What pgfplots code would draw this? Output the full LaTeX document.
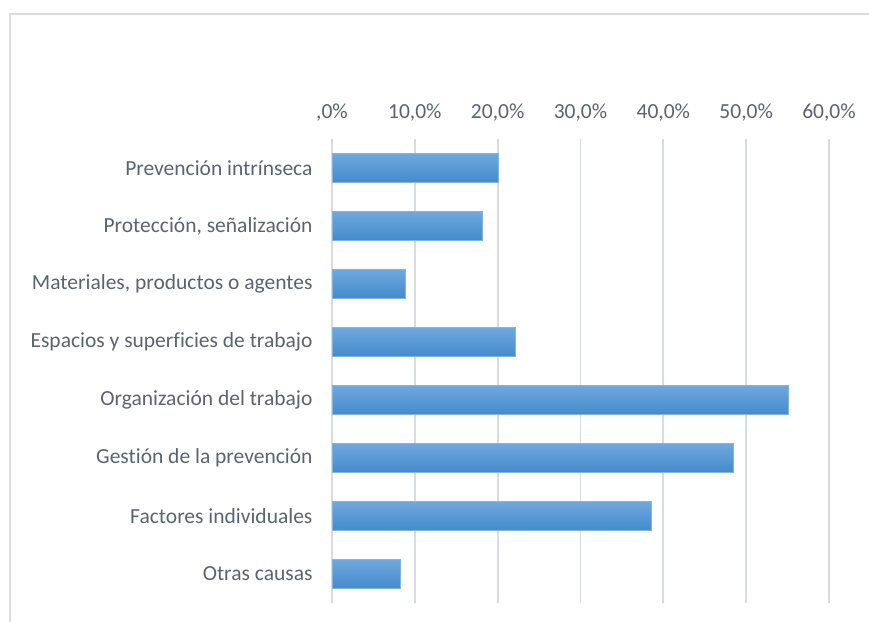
\documentclass[border=0pt]{standalone}
\usepackage{fontspec}
\setmainfont{Carlito}[Ligatures=NoCommon]
\usepackage{pgfplots}
\pgfplotsset{compat=1.18}
\definecolor{txt}{RGB}{89,99,115}
\definecolor{gridc}{RGB}{214,219,228}
\definecolor{framec}{RGB}{217,220,226}
\definecolor{bartop}{RGB}{112,168,222}
\definecolor{barbot}{RGB}{68,138,204}
\definecolor{barline}{RGB}{130,180,230}
\pgfplotsset{mybar/.style={xbar, bar width=29pt, bar shift=0pt, draw=barline, line width=0.6pt, top color=bartop, bottom color=barbot}}
\begin{document}
\begin{tikzpicture}[x=1pt,y=1pt]
\path[use as bounding box] (0,0) rectangle (869,621);
\draw[framec,line width=1.4pt] (10,-5) -- (10,607) -- (875,607);
\begin{axis}[
  at={(332pt,18pt)}, anchor=south west,
  scale only axis, width=497pt, height=464pt,
  xmin=0, xmax=60, ymin=0.5, ymax=8.5, y dir=reverse,
  xtick={0,10,20,30,40,50,60},
  xticklabels={{,0\%},{10,0\%},{20,0\%},{30,0\%},{40,0\%},{50,0\%},{60,0\%}},
  xticklabel pos=upper,
  ytick={1,...,8},
  yticklabels={Prevención intrínseca,{Protección, señalización},{Materiales, productos o agentes},Espacios y superficies de trabajo,Organización del trabajo,Gestión de la prevención,Factores individuales,Otras causas},
  axis line style={draw=none},
  major tick length=0pt,
  xmajorgrids=true, ymajorgrids=false,
  major grid style={draw=gridc,line width=1.8pt},
  tick label style={font=\fontsize{21.5}{24}\selectfont, text=txt},
  xticklabel style={yshift=14pt},
  yticklabel style={xshift=-16pt},
  clip=false,
]
\addplot[mybar] coordinates {(20.1,1)};
\addplot[mybar] coordinates {(18.1,2)};
\addplot[mybar] coordinates {(8.8,3)};
\addplot[mybar] coordinates {(22.1,4)};
\addplot[mybar] coordinates {(55.1,5)};
\addplot[mybar] coordinates {(48.5,6)};
\addplot[mybar] coordinates {(38.6,7)};
\addplot[mybar] coordinates {(8.2,8)};
\end{axis}
\end{tikzpicture}
\end{document}
